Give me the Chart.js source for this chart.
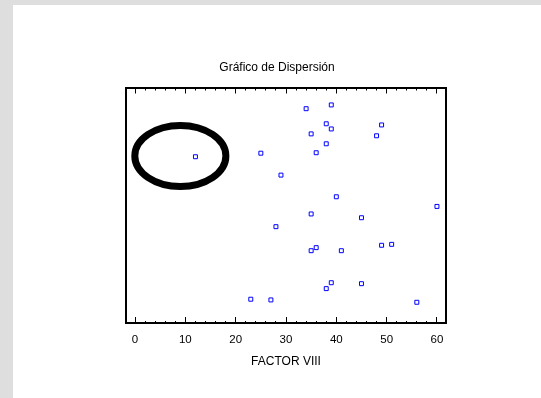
<!DOCTYPE html>
<html>
<head>
<meta charset="utf-8">
<script src="https://cdn.jsdelivr.net/npm/chart.js@4/dist/chart.umd.min.js"></script>
<style>
  html, body { margin: 0; padding: 0; background: #dedede; }
  #panel { position: absolute; left: 13px; top: 5px; width: 528px; height: 393px; background: #fff; }
</style>
</head>
<body>
<div id="panel"><canvas id="scatter" width="528" height="393"></canvas></div>
<script>
// FACTOR VIII (x) against the second variable (y, unlabelled in the source)
const factorVIII = [12, 25, 29, 39, 34, 38, 39, 49, 48, 35, 38, 36, 40, 60,
                    28, 23, 27, 35, 45, 35, 36, 41, 49, 51, 39, 38, 45, 56];
const yValues    = [70.6, 72.1, 62.8, 92.6, 91.0, 84.6, 82.4, 84.1, 79.5, 80.3, 76.1, 72.3, 53.6, 49.5,
                    40.9, 10.1, 9.8, 46.3, 44.7, 30.7, 32.0, 30.7, 33.0, 33.4, 17.1, 14.6, 16.7, 8.8];
const xTickStep = 2;
const xLabelStep = 10;

// highlighted outlier (centre and radii in data units)
const ellipseCenter = [9, 70.9];
const ellipseRadii = [9.05, 12.95];

const points = factorVIII.map((x, i) => ({ x: x, y: yValues[i] }));

function isMajor(v) {
    return Math.abs(v % xLabelStep) < 1e-6;
}

const ellipsePlugin = {
    id: 'ellipseMark',
    afterDatasetsDraw(chart) {
        const xs = chart.scales.x, ys = chart.scales.y;
        const cx = xs.getPixelForValue(ellipseCenter[0]);
        const cy = ys.getPixelForValue(ellipseCenter[1]);
        const rx = Math.abs(xs.getPixelForValue(ellipseCenter[0] + ellipseRadii[0]) - cx);
        const ry = Math.abs(ys.getPixelForValue(ellipseCenter[1] + ellipseRadii[1]) - cy);
        const ctx = chart.ctx;
        ctx.save();
        ctx.beginPath();
        ctx.ellipse(cx, cy, rx, ry, 0, 0, Math.PI * 2);
        ctx.lineWidth = 7;
        ctx.strokeStyle = '#000';
        ctx.stroke();
        ctx.restore();
    }
};

const frame = { display: true, color: '#000', width: 2 };
const xRange = { min: -1.8, max: 61.8 };

new Chart(document.getElementById('scatter'), {
    type: 'scatter',
    data: {
        datasets: [{
            data: points,
            pointStyle: 'rect',
            pointRadius: 2.8,
            pointHoverRadius: 2.8,
            borderWidth: 1,
            borderColor: '#0000ff',
            backgroundColor: '#ffffff'
        }]
    },
    options: {
        responsive: false,
        animation: false,
        events: [],
        layout: { padding: 0 },
        plugins: {
            legend: { display: false },
            tooltip: { enabled: false },
            title: {
                display: true,
                text: 'Gráfico de Dispersión',
                color: '#000',
                font: { family: 'Liberation Sans, Arial', size: 12, weight: 'normal' },
                padding: { top: 55.5, bottom: 12.6 }
            }
        },
        scales: {
            x: {
                type: 'linear',
                position: 'bottom',
                min: xRange.min,
                max: xRange.max,
                afterFit: s => { s.height = 75; },
                border: frame,
                grid: {
                    drawOnChartArea: false,
                    drawTicks: true,
                    tickLength: -6,
                    tickColor: '#000',
                    tickWidth: 1,
                    tickBorderDash: c => isMajor(c.tick.value) ? [] : [3, 100]
                },
                ticks: {
                    stepSize: xTickStep,
                    includeBounds: false,
                    autoSkip: false,
                    maxRotation: 0,
                    padding: 16,
                    color: '#000',
                    font: { family: 'Liberation Sans, Arial', size: 11.5 },
                    callback: v => isMajor(v) ? String(Math.round(v)) : ''
                },
                title: {
                    display: true,
                    text: 'FACTOR VIII',
                    color: '#000',
                    font: { family: 'Liberation Sans, Arial', size: 12 },
                    padding: { top: 0, bottom: 28.8 }
                }
            },
            x2: {
                type: 'linear',
                position: 'top',
                min: xRange.min,
                max: xRange.max,
                afterFit: s => { s.height = 0; },
                border: frame,
                grid: {
                    drawOnChartArea: false,
                    drawTicks: true,
                    tickLength: -6,
                    tickColor: '#000',
                    tickWidth: 1,
                    tickBorderDash: c => isMajor(c.tick.value) ? [] : [0, 3, 3, 100]
                },
                ticks: {
                    stepSize: xTickStep,
                    includeBounds: false,
                    autoSkip: false,
                    display: false
                }
            },
            y: {
                type: 'linear',
                position: 'left',
                min: 0,
                max: 100,
                afterFit: s => { s.width = 113; },
                border: frame,
                grid: { display: false },
                ticks: { display: false }
            },
            y2: {
                type: 'linear',
                position: 'right',
                min: 0,
                max: 100,
                afterFit: s => { s.width = 95; },
                border: frame,
                grid: { display: false },
                ticks: { display: false }
            }
        }
    },
    plugins: [ellipsePlugin]
});
</script>
</body>
</html>
